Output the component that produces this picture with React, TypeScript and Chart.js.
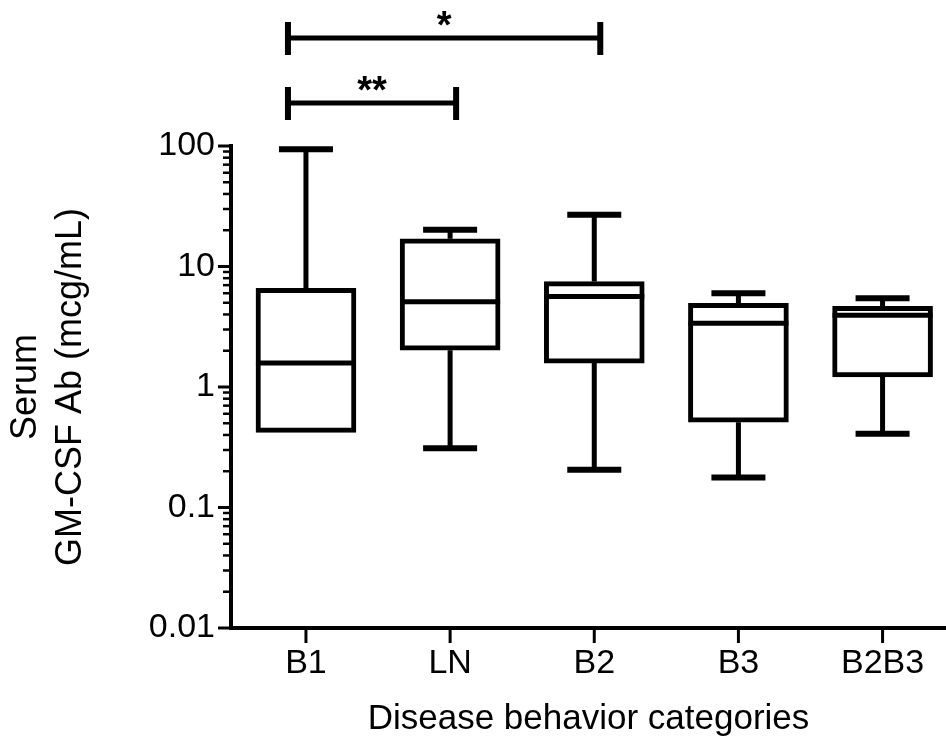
import React, { useEffect, useRef } from 'react';
import { Chart, registerables } from 'chart.js';

Chart.register(...registerables);

const categories = ['B1', 'LN', 'B2', 'B3', 'B2B3'];
const whiskerMin = [0.42, 0.31, 0.206, 0.177, 0.41];
const q1 = [0.42, 2.02, 1.58, 0.51, 1.21];
const median = [1.58, 5.1, 5.65, 3.38, 3.94];
const q3 = [6.6, 17.0, 7.5, 4.94, 4.67];
const whiskerMax = [94, 20.2, 26.9, 6.0, 5.44];
const yMajorTicks = [0.01, 0.1, 1, 10, 100];
const bracketFrom = [0, 0];
const bracketTo = [2, 1];
const bracketLabels = ['*', '**'];

const FONT = '"Liberation Sans", Arial, Helvetica, sans-serif';
const BOX_W = 100;
const CAP_W = 54;

const boxPlotPlugin = {
  id: 'boxPlotExtras',
  beforeDatasetsDraw(chart: any) {
    const { ctx, scales } = chart;
    const x = scales.x, y = scales.y;
    ctx.save();
    ctx.strokeStyle = '#000';
    ctx.lineCap = 'butt';
    categories.forEach((_, i) => {
      const cx = x.getPixelForValue(i);
      const yMax = y.getPixelForValue(whiskerMax[i]);
      const yQ3 = y.getPixelForValue(q3[i]);
      const yQ1 = y.getPixelForValue(q1[i]);
      const yMin = y.getPixelForValue(whiskerMin[i]);
      ctx.lineWidth = 5;
      ctx.beginPath();
      ctx.moveTo(cx, yQ3);
      ctx.lineTo(cx, yMax);
      if (whiskerMin[i] < q1[i]) {
        ctx.moveTo(cx, yQ1);
        ctx.lineTo(cx, yMin);
      }
      ctx.stroke();
      ctx.lineWidth = 6;
      ctx.beginPath();
      ctx.moveTo(cx - CAP_W / 2, yMax);
      ctx.lineTo(cx + CAP_W / 2, yMax);
      if (whiskerMin[i] < q1[i]) {
        ctx.moveTo(cx - CAP_W / 2, yMin);
        ctx.lineTo(cx + CAP_W / 2, yMin);
      }
      ctx.stroke();
    });
    ctx.restore();
  },
  afterDatasetsDraw(chart: any) {
    const { ctx, scales } = chart;
    const x = scales.x, y = scales.y;
    ctx.save();
    ctx.strokeStyle = '#000';
    ctx.lineWidth = 5;
    categories.forEach((_, i) => {
      const cx = x.getPixelForValue(i);
      const ym = y.getPixelForValue(median[i]);
      ctx.beginPath();
      ctx.moveTo(cx - BOX_W / 2, ym);
      ctx.lineTo(cx + BOX_W / 2, ym);
      ctx.stroke();
    });
    ctx.restore();
  },
  afterDraw(chart: any) {
    const { ctx, scales, chartArea } = chart;
    const x = scales.x, y = scales.y;
    ctx.save();
    ctx.strokeStyle = '#000';
    // y tick marks (major + minor)
    y.ticks.forEach((t: any) => {
      const py = y.getPixelForValue(t.value);
      const major = yMajorTicks.includes(t.value);
      ctx.lineWidth = major ? 3 : 2.5;
      ctx.beginPath();
      ctx.moveTo(chartArea.left - (major ? 13 : 8), py);
      ctx.lineTo(chartArea.left, py);
      ctx.stroke();
    });
    // x tick marks
    ctx.lineWidth = 3;
    categories.forEach((_, i) => {
      const px = x.getPixelForValue(i);
      ctx.beginPath();
      ctx.moveTo(px, chartArea.bottom);
      ctx.lineTo(px, chartArea.bottom + 15);
      ctx.stroke();
    });
    // significance brackets
    const levels = [38, 103];
    bracketLabels.forEach((label, k) => {
      const x1 = x.getPixelForValue(bracketFrom[k]) - 18;
      const x2 = x.getPixelForValue(bracketTo[k]) + 6;
      const by = levels[k];
      ctx.lineWidth = 5;
      ctx.beginPath();
      ctx.moveTo(x1, by);
      ctx.lineTo(x2, by);
      ctx.stroke();
      ctx.lineWidth = 6;
      ctx.beginPath();
      ctx.moveTo(x1, by - 16);
      ctx.lineTo(x1, by + 17);
      ctx.moveTo(x2, by - 16);
      ctx.lineTo(x2, by + 17);
      ctx.stroke();
      ctx.fillStyle = '#000';
      ctx.font = `bold 38px ${FONT}`;
      ctx.textAlign = 'center';
      ctx.textBaseline = 'alphabetic';
      ctx.fillText(label, (x1 + x2) / 2, by - 18 + 0.57 * 38 - 4);
    });
    ctx.restore();
  },
};

export default function App() {
  const ref = useRef<HTMLCanvasElement | null>(null);
  useEffect(() => {
    if (!ref.current) return;
    Chart.defaults.font.family = FONT;
    Chart.defaults.color = '#000';
    const chart = new Chart(ref.current, {
      type: 'bar',
      data: {
        datasets: [
          {
            data: categories.map((_, i) => ({ x: i, y: [q1[i], q3[i]] })) as any,
            backgroundColor: '#fff',
            borderColor: '#000',
            borderWidth: 5,
            borderSkipped: false,
            barThickness: BOX_W,
          },
        ],
      },
      options: {
        responsive: false,
        animation: false,
        devicePixelRatio: 1,
        layout: { padding: { top: 146, left: 0, right: 0, bottom: 0 } },
        plugins: { legend: { display: false }, tooltip: { enabled: false } },
        scales: {
          x: {
            type: 'linear',
            offset: false,
            min: -0.52,
            max: 4.44,
            grid: { display: false, drawTicks: false, offset: false },
            border: { display: true, width: 4, color: '#000' },
            afterBuildTicks: (s: any) => {
              s.ticks = categories.map((_, i) => ({ value: i }));
            },
            ticks: {
              autoSkip: false,
              maxRotation: 0,
              padding: 15,
              font: { size: 34 },
              color: '#000',
              callback: (v: any) => categories[v] ?? '',
            },
            title: {
              display: true,
              text: 'Disease behavior categories',
              font: { size: 35, lineHeight: 1.15 },
              color: '#000',
              padding: { top: 0, bottom: 0 },
            },
            afterFit: (s: any) => {
              s.height = 111;
            },
          },
          y: {
            type: 'logarithmic',
            min: 0.01,
            max: 100,
            grid: { display: false, drawTicks: false },
            border: { display: true, width: 4, color: '#000' },
            afterBuildTicks: (s: any) => {
              const t: any[] = [];
              for (let d = 0; d < yMajorTicks.length - 1; d++) {
                for (let k = 1; k <= 9; k++) {
                  t.push({ value: k === 1 ? yMajorTicks[d] : k * yMajorTicks[d] });
                }
              }
              t.push({ value: yMajorTicks[yMajorTicks.length - 1] });
              s.ticks = t;
            },
            ticks: {
              autoSkip: false,
              padding: 16,
              font: { size: 34 },
              color: '#000',
              callback: (v: any) => (yMajorTicks.includes(v) ? String(v) : ''),
            },
            title: {
              display: true,
              text: ['Serum', 'GM-CSF Ab (mcg/mL)'],
              font: { size: 36, lineHeight: 1.25 },
              color: '#000',
              padding: { top: 4, bottom: 0 },
            },
            afterFit: (s: any) => {
              s.width = 231;
            },
          },
        },
      } as any,
      plugins: [boxPlotPlugin],
    });
    return () => chart.destroy();
  }, []);
  return (
    <div style={{ position: 'absolute', left: 0, top: 0, width: 946, height: 739, background: '#fff' }}>
      <canvas ref={ref} width={946} height={739} />
    </div>
  );
}
